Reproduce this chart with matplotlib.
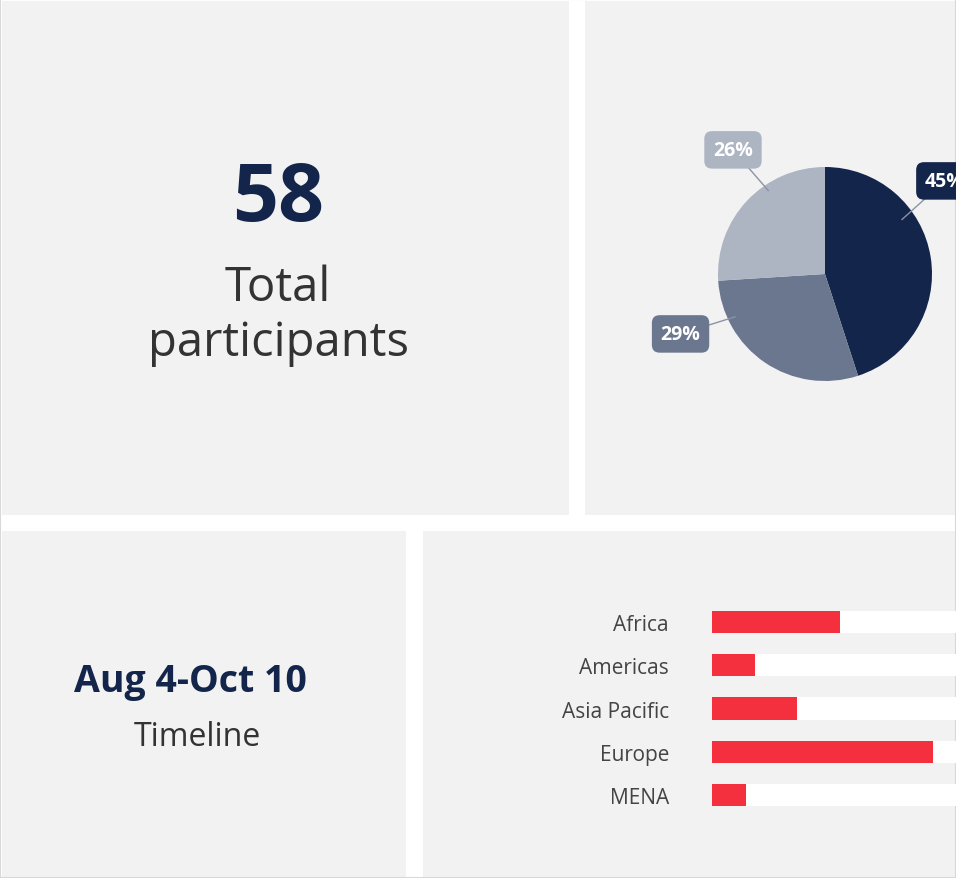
import matplotlib.pyplot as plt
from matplotlib.patches import Rectangle

W, H = 956, 879
NAVY = "#13254a"
PANEL = "#f2f2f2"

total = 58
pie_labels = ["45%", "29%", "26%"]
pie_values = [45, 29, 26]
pie_colors = [NAVY, "#6b778f", "#adb4c2"]

regions = ["Africa", "Americas", "Asia Pacific", "Europe", "MENA"]
region_counts = [15, 5, 10, 26, 4]
track_max = 30

plt.rcParams["font.family"] = "Open Sans"
fig = plt.figure(figsize=(W / 100, H / 100), dpi=100)
fig.patch.set_facecolor("white")


def fx(px):
    return px / W


def fy(py):
    return 1 - py / H


def panel(x0, y0, x1, y1):
    fig.patches.append(Rectangle((fx(x0), fy(y1)), fx(x1 - x0), (y1 - y0) / H,
                                 transform=fig.transFigure, facecolor=PANEL,
                                 edgecolor="none", zorder=0))


panel(2, 2, 569, 516)
panel(585, 2, 956, 516)
panel(2, 532, 406, 878)
panel(423, 532, 956, 878)
fig.patches.append(Rectangle((0, 0), 1, 1, transform=fig.transFigure, fill=False,
                             edgecolor="#d8d8d8", lw=1.5))

# KPI text
fig.text(fx(278), fy(200), str(total), ha="center", va="center", fontsize=58,
         fontweight="bold", color=NAVY)
fig.text(fx(278), fy(288), "Total", ha="center", va="center", fontsize=34, color="#333333")
fig.text(fx(278), fy(343), "participants", ha="center", va="center", fontsize=34, color="#333333")
fig.text(fx(190), fy(682), "Aug 4-Oct 10", ha="center", va="center", fontsize=27,
         fontweight="bold", color=NAVY)
fig.text(fx(197), fy(738), "Timeline", ha="center", va="center", fontsize=23, color="#333333")

# pie
r = 107
cx, cy = 825, 275
pax = fig.add_axes([fx(cx - r), fy(cy + r), 2 * r / W, 2 * r / H])
pax.set_zorder(3)
pax.pie(pie_values, colors=pie_colors, startangle=90, counterclock=False,
        radius=1, wedgeprops=dict(linewidth=0))
pax.set_xlim(-1, 1)
pax.set_ylim(-1, 1)
pax.set_aspect("equal")
boxes = [(1.12, 0.87, 0.72, 0.51), (-1.35, -0.56, -0.84, -0.40), (-0.86, 1.16, -0.53, 0.78)]
for lab, col, (bx, by, lx, ly) in zip(pie_labels, pie_colors, boxes):
    pax.plot([bx, lx], [by, ly], color="#8a93a5", lw=1, clip_on=False)
    pax.text(bx, by, lab, ha="center", va="center", fontsize=14, fontweight="bold",
             color="white", clip_on=False,
             bbox=dict(boxstyle="round,pad=0.45,rounding_size=0.4", fc=col, ec="none"))

# bars
y0, y1 = 601.4, 817.6
bx0 = 712
bax = fig.add_axes([fx(bx0), fy(y1), track_max * 8.5 / W, (y1 - y0) / H])
bax.set_zorder(3)
ypos = range(len(regions))
bax.barh(ypos, [track_max] * len(regions), height=0.51, color="white")
bax.barh(ypos, region_counts, height=0.51, color="#f5303e")
bax.set_xlim(0, track_max)
bax.set_ylim(len(regions) - 0.5, -0.5)
bax.set_yticks(list(ypos))
bax.set_yticklabels(regions, fontsize=15, color="#444444")
bax.tick_params(axis="y", length=0, pad=31)
bax.set_xticks([])
bax.patch.set_alpha(0)
for s in bax.spines.values():
    s.set_visible(False)

fig.savefig("out.png", dpi=100)
